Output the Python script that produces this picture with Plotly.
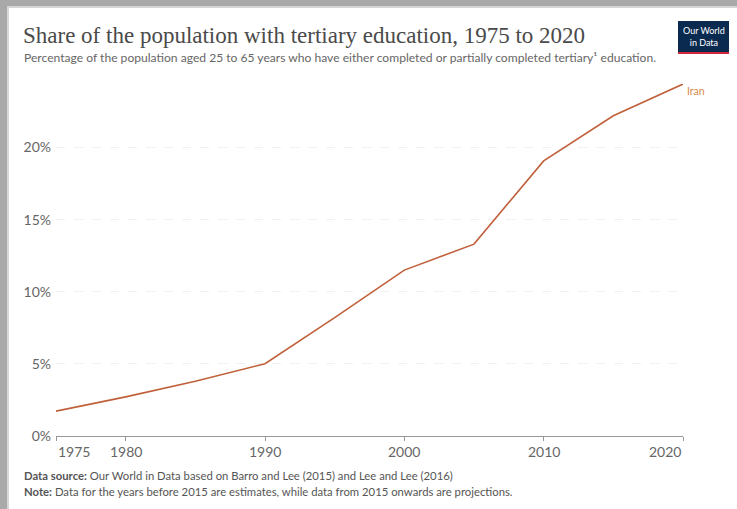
import plotly.graph_objects as go

# Data
years = [1975, 1980, 1985, 1990, 1995, 2000, 2005, 2010, 2015, 2020]
iran_share = [1.72, 2.71, 3.8, 5.01, 8.2, 11.5, 13.3, 19.07, 22.2, 24.4]
x_ticks = [1975, 1980, 1990, 2000, 2010, 2020]
y_ticks = [0, 5, 10, 15, 20]
y_tick_labels = ["0%", "5%", "10%", "15%", "20%"]
series_name = "Iran"

W, H = 737, 509
L, R, T, B = 56, 54, 84, 72.5
pw = W - L - R
ph = H - T - B

def px_x(px):
    return (px - L) / pw

def px_y(py):
    return (H - B - py) / ph

line_color = "#c0603a"

fig = go.Figure()
fig.add_trace(go.Scatter(
    x=years, y=iran_share, mode="lines", name=series_name,
    line=dict(color=line_color, width=1.6), showlegend=False,
    hovertemplate="%{x}: %{y:.1f}%<extra></extra>",
))

shapes = [
    # white card over gray screenshot frame
    dict(type="rect", xref="paper", yref="paper", layer="below",
         x0=px_x(7), x1=px_x(W + 5), y0=px_y(H + 5), y1=px_y(6),
         fillcolor="#d6d6d6", line=dict(width=0)),
    dict(type="rect", xref="paper", yref="paper", layer="below",
         x0=px_x(9), x1=px_x(W + 5), y0=px_y(H + 5), y1=px_y(8),
         fillcolor="#ffffff", line=dict(width=0)),
    # logo box
    dict(type="rect", xref="paper", yref="paper", layer="above",
         x0=px_x(678), x1=px_x(729), y0=px_y(52), y1=px_y(21),
         fillcolor="#0b2a4f", line=dict(width=0)),
    dict(type="rect", xref="paper", yref="paper", layer="above",
         x0=px_x(678), x1=px_x(729), y0=px_y(54), y1=px_y(52),
         fillcolor="#d6263a", line=dict(width=0)),
]

annotations = [
    dict(text="Share of the population with tertiary education, 1975 to 2020",
         xref="paper", yref="paper", x=px_x(21), y=px_y(35),
         xanchor="left", yanchor="middle", showarrow=False,
         font=dict(family="Liberation Serif, DejaVu Serif, serif", size=23, color="#4a4a4a")),
    dict(text="Percentage of the population aged 25 to 65 years who have either completed or partially completed tertiary¹ education.",
         xref="paper", yref="paper", x=px_x(22), y=px_y(57),
         xanchor="left", yanchor="middle", showarrow=False,
         font=dict(family="Lato, sans-serif", size=12.1, color="#666666")),
    dict(text="<b>Data source:</b> Our World in Data based on Barro and Lee (2015) and Lee and Lee (2016)",
         xref="paper", yref="paper", x=px_x(22), y=px_y(476),
         xanchor="left", yanchor="middle", showarrow=False,
         font=dict(family="Lato, sans-serif", size=11.3, color="#555555")),
    dict(text="<b>Note:</b> Data for the years before 2015 are estimates, while data from 2015 onwards are projections.",
         xref="paper", yref="paper", x=px_x(22), y=px_y(492),
         xanchor="left", yanchor="middle", showarrow=False,
         font=dict(family="Lato, sans-serif", size=11.3, color="#555555")),
    dict(text="Our World<br>in Data", xref="paper", yref="paper",
         x=px_x(703.5), y=px_y(36.5), xanchor="center", yanchor="middle",
         showarrow=False, align="center",
         font=dict(family="Lato, sans-serif", size=9, color="#ffffff")),
    dict(text=series_name, xref="x", yref="y", x=years[-1], y=iran_share[-1],
         xanchor="left", yanchor="middle", xshift=2, yshift=-7, showarrow=False,
         font=dict(family="Lato, sans-serif", size=10.5, color="#d88a4a")),
]

for i, t in enumerate(x_ticks):
    anchor = "center"
    if i == 0:
        anchor = "left"
    elif i == len(x_ticks) - 1:
        anchor = "right"
    annotations.append(dict(
        text=str(t), xref="x", yref="paper", x=t, y=0, xanchor=anchor,
        yanchor="middle", yshift=-15, showarrow=False,
        font=dict(family="Lato, sans-serif", size=14, color="#666666")))

fig.update_layout(
    width=W, height=H,
    margin=dict(l=L, r=R, t=T, b=B),
    paper_bgcolor="#a9a9a9",
    plot_bgcolor="rgba(0,0,0,0)",
    shapes=shapes,
    annotations=annotations,
    xaxis=dict(range=[1975, 2020], tickvals=x_ticks, showticklabels=False,
               showgrid=False, zeroline=False, showline=True, linecolor="#999999",
               linewidth=1, ticks="outside", ticklen=4, tickcolor="#999999"),
    yaxis=dict(range=[0, 24.4], tickvals=y_ticks, ticktext=y_tick_labels,
               showgrid=True, gridcolor="#f0f0f0", griddash="dash", zeroline=False,
               showline=False, ticks="", ticklabelstandoff=4,
               tickfont=dict(family="Lato, sans-serif", size=14, color="#666666")),
)

fig.write_html("out.html", config={"displayModeBar": False},
               post_script="document.body.style.margin='0';")
